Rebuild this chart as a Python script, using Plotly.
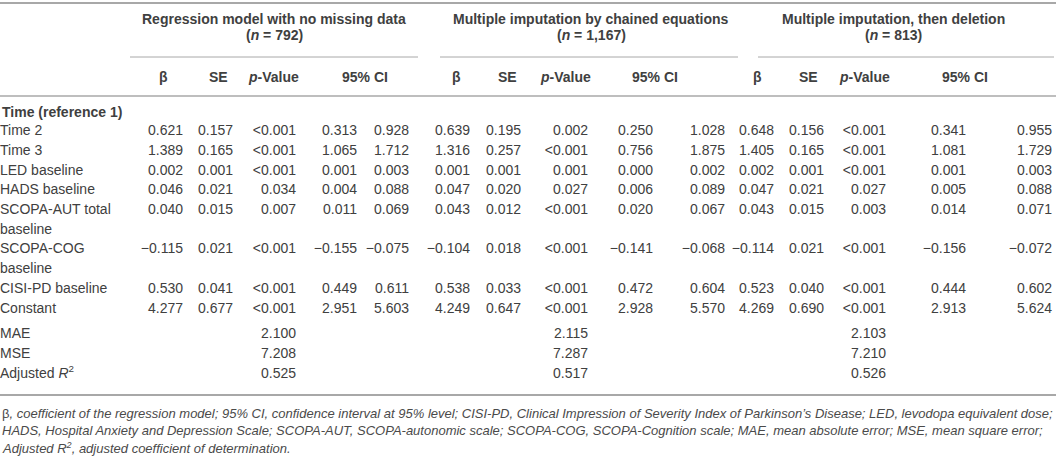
import plotly.graph_objects as go

# ---- table data -------------------------------------------------------
row_labels = ["Time 2", "Time 3", "LED baseline", "HADS baseline",
              "SCOPA-AUT total<br>baseline", "SCOPA-COG<br>baseline",
              "CISI-PD baseline", "Constant"]

group_titles = ["Regression model with no missing data",
                "Multiple imputation by chained equations",
                "Multiple imputation, then deletion"]
group_n = ["792", "1,167", "813"]
sub_heads = ["\u03b2", "SE", "<i>p</i>-Value", "95% CI"]

# no missing data
beta1 = ["0.621", "1.389", "0.002", "0.046", "0.040", "\u22120.115", "0.530", "4.277"]
se1 = ["0.157", "0.165", "0.001", "0.021", "0.015", "0.021", "0.041", "0.677"]
p1 = ["<0.001", "<0.001", "<0.001", "0.034", "0.007", "<0.001", "<0.001", "<0.001"]
lo1 = ["0.313", "1.065", "0.001", "0.004", "0.011", "\u22120.155", "0.449", "2.951"]
hi1 = ["0.928", "1.712", "0.003", "0.088", "0.069", "\u22120.075", "0.611", "5.603"]

# chained equations
beta2 = ["0.639", "1.316", "0.001", "0.047", "0.043", "\u22120.104", "0.538", "4.249"]
se2 = ["0.195", "0.257", "0.001", "0.020", "0.012", "0.018", "0.033", "0.647"]
p2 = ["0.002", "<0.001", "0.001", "0.027", "<0.001", "<0.001", "<0.001", "<0.001"]
lo2 = ["0.250", "0.756", "0.000", "0.006", "0.020", "\u22120.141", "0.472", "2.928"]
hi2 = ["1.028", "1.875", "0.002", "0.089", "0.067", "\u22120.068", "0.604", "5.570"]

# imputation then deletion
beta3 = ["0.648", "1.405", "0.002", "0.047", "0.043", "\u22120.114", "0.523", "4.269"]
se3 = ["0.156", "0.165", "0.001", "0.021", "0.015", "0.021", "0.040", "0.690"]
p3 = ["<0.001", "<0.001", "<0.001", "0.027", "0.003", "<0.001", "<0.001", "<0.001"]
lo3 = ["0.341", "1.081", "0.001", "0.005", "0.014", "\u22120.156", "0.444", "2.913"]
hi3 = ["0.955", "1.729", "0.003", "0.088", "0.071", "\u22120.072", "0.602", "5.624"]

stat_labels = ["MAE", "MSE", "Adjusted <i>R</i><sup>2</sup>"]
mae = ["2.100", "2.115", "2.103"]
mse = ["7.208", "7.287", "7.210"]
adj_r2 = ["0.525", "0.517", "0.526"]

footnote = [
    "\u03b2<i>, coefficient of the regression model; 95% CI, confidence interval at 95% level; "
    "CISI-PD, Clinical Impression of Severity Index of Parkinson\u2019s Disease; LED, levodopa equivalent dose;</i>",
    "<i>HADS, Hospital Anxiety and Depression Scale; SCOPA-AUT, SCOPA-autonomic scale; "
    "SCOPA-COG, SCOPA-Cognition scale; MAE, mean absolute error; MSE, mean square error;</i>",
    "<i>Adjusted R<sup>2</sup>, adjusted coefficient of determination.</i>",
]

# ---- layout constants -------------------------------------------------
W, H = 1056, 460
FONT = "Liberation Sans"
INK = "#404040"
RULE = "#a8a8a8"
FS = 14

col_right = [[183, 233, 296, 357, 409],
             [470, 521, 588, 653, 725],
             [774, 824, 886, 966, 1052]]
sub_cx = [[163, 218, 273, 365],
          [456, 507, 565, 655],
          [757, 808, 864, 965]]
rule_span = [(130, 418), (440, 738), (758, 1054)]
title_cx = [274, 591, 893]

ROW_TOP = 112
LINE_H = 19.7
STAT_GAP = 6
Y_TITLE1, Y_TITLE2, Y_GROUP_RULE, Y_SUB, Y_HEAD_RULE = 19, 35, 57, 77, 96
Y_BOTTOM_RULE = 395
FOOT_Y0, FOOT_H = 413, 17.5

groups = [[beta1, se1, p1, lo1, hi1],
          [beta2, se2, p2, lo2, hi2],
          [beta3, se3, p3, lo3, hi3]]

# line index for each row: labels may wrap onto two lines
row_line = []
label_lines, label_y = [], []
line = 1
for lab in row_labels:
    row_line.append(line)
    for part in lab.split("<br>"):
        label_lines.append(part)
        label_y.append(ROW_TOP + line * LINE_H)
        line += 1
row_y = [ROW_TOP + k * LINE_H for k in row_line]
stat_y = [ROW_TOP + (line + i) * LINE_H + STAT_GAP for i in range(len(stat_labels))]

fig = go.Figure()

body_font = dict(family=FONT, size=FS, color=INK)

# row labels
fig.add_trace(go.Scatter(
    x=[0] * len(label_lines), y=label_y, text=label_lines,
    mode="text", textposition="middle right", textfont=body_font,
    hoverinfo="skip", showlegend=False))
fig.add_trace(go.Scatter(
    x=[0] * len(stat_labels), y=stat_y, text=stat_labels,
    mode="text", textposition="middle right", textfont=body_font,
    hoverinfo="skip", showlegend=False))

# numeric cells, right aligned on each column edge
for g, cols in enumerate(groups):
    for c, values in enumerate(cols):
        fig.add_trace(go.Scatter(
            x=[col_right[g][c]] * len(values), y=row_y, text=values,
            mode="text", textposition="middle left", textfont=body_font,
            hoverinfo="skip", showlegend=False))
    stats = [mae[g], mse[g], adj_r2[g]]
    fig.add_trace(go.Scatter(
        x=[col_right[g][2]] * len(stats), y=stat_y, text=stats,
        mode="text", textposition="middle left", textfont=body_font,
        hoverinfo="skip", showlegend=False))

# header text
bold = dict(family=FONT, size=FS, color=INK)
ann = []
ann.append(dict(x=0, y=ROW_TOP, text="<b>Time (reference 1)</b>", xanchor="left",
                font=bold))
for g in range(3):
    ann.append(dict(x=title_cx[g], y=Y_TITLE1, text="<b>%s</b>" % group_titles[g], font=bold))
    ann.append(dict(x=title_cx[g], y=Y_TITLE2, text="<b>(<i>n</i> = %s)</b>" % group_n[g], font=bold))
    for cx, lab in zip(sub_cx[g], sub_heads):
        ann.append(dict(x=cx, y=Y_SUB, text="<b>%s</b>" % lab, font=bold))

for i, t in enumerate(footnote):
    ann.append(dict(x=0, y=FOOT_Y0 + i * FOOT_H, text=t, xanchor="left",
                    font=dict(family=FONT, size=13, color="#4a4a4a")))

for a in ann:
    a.update(xref="x", yref="y", showarrow=False, yanchor="middle")
    a.setdefault("xanchor", "center")

# rules
shapes = [
    dict(type="line", x0=0, x1=W, y0=3, y1=3, line=dict(color=RULE, width=2)),
    dict(type="line", x0=0, x1=W, y0=Y_HEAD_RULE, y1=Y_HEAD_RULE, line=dict(color=RULE, width=1.5)),
    dict(type="line", x0=0, x1=W, y0=Y_BOTTOM_RULE, y1=Y_BOTTOM_RULE, line=dict(color=RULE, width=2)),
]
for x0, x1 in rule_span:
    shapes.append(dict(type="line", x0=x0, x1=x1, y0=Y_GROUP_RULE, y1=Y_GROUP_RULE,
                       line=dict(color=RULE, width=1)))
for s in shapes:
    s.update(xref="x", yref="y")

fig.update_layout(
    width=W, height=H,
    margin=dict(l=0, r=0, t=0, b=0),
    paper_bgcolor="white", plot_bgcolor="white",
    xaxis=dict(range=[0, W], visible=False, fixedrange=True),
    yaxis=dict(range=[H, 0], visible=False, fixedrange=True),
    annotations=ann, shapes=shapes,
)

# page body has a default 8px margin; drop it so the figure fills the window
fig.write_html("out.html", config={"displayModeBar": False},
               post_script="document.body.style.margin='0';")
